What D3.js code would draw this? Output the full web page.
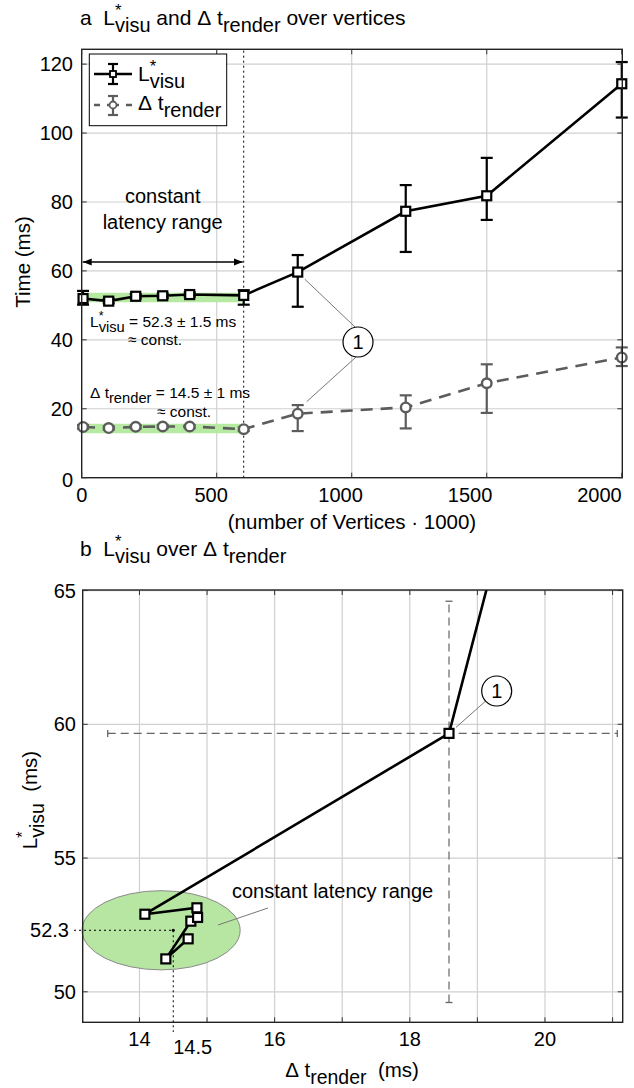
<!DOCTYPE html>
<html><head><meta charset="utf-8">
<script src="https://cdn.jsdelivr.net/npm/d3@7"></script>
<style>
body{margin:0;background:#fff}
svg{display:block}
text{font-family:"Liberation Sans",Arial,Helvetica,sans-serif;fill:#000}
</style>
</head><body>
<svg id="c" width="634" height="1088"></svg>
<script>
// ---------------- data ----------------
const vertices   = [5, 100, 200, 300, 400, 600, 800, 1200, 1500, 2000];
const lVisu      = [51.98, 51.23, 52.64, 52.78, 53.14, 52.9, 59.66, 77.3, 81.8, 114.3];
const lVisuLow   = [50.2, 50.6, 52.0, 52.1, 52.5, 50.2, 49.6, 65.5, 74.8, 104.5];
const lVisuHigh  = [54.2, 51.9, 53.3, 53.4, 53.8, 54.4, 64.6, 84.9, 92.8, 120.6];
const dtRender   = [14.72, 14.39, 14.76, 14.86, 14.85, 14.08, 18.58, 20.4, 27.4, 34.9];
const dtLow      = [14.2, 13.9, 14.3, 14.4, 14.4, 13.6, 13.53, 14.3, 18.8, 32.4];
const dtHigh     = [15.3, 14.9, 15.2, 15.3, 15.3, 14.6, 21.07, 23.9, 32.9, 37.8];
const xTicksA = [0, 500, 1000, 1500, 2000];
const yTicksA = [0, 20, 40, 60, 80, 100, 120];
const xTicksB = [14, 16, 18, 20];
const xGridB  = [14, 15, 16, 17, 18, 19, 20, 21];
const yTicksB = [50, 55, 60, 65];
const constRangeEnd = 600;
const constL = 52.3, constLErr = 1.5;
const constDt = 14.5, constDtErr = 1;
const bandL = 52.3, bandDt = 14.3;
const highlight = 6;
const ellipseCenter = [14.32, 52.3], ellipseRadius = [1.17, 1.48];

const svg = d3.select('#c');
const FS = 20;      // tick labels
const FL = 20.5;    // axis labels
const FT = 21;      // titles
const NB = '\u00a0';

function rich(g, x, y, parts, size, anchor) {
  const t = g.append('text').attr('x', x).attr('y', y).attr('font-size', size);
  if (anchor) t.attr('text-anchor', anchor);
  let cur = 0, lastSup = 0;
  parts.forEach(p => {
    const [txt, type] = Array.isArray(p) ? p : [p, 'n'];
    let target = 0, fs = size;
    if (type === 'sup') { target = -0.42 * size; fs = 0.8 * size; }
    if (type === 'sub' || type === 'ssub') { target = 0.34 * size; fs = 0.95 * size; }
    const ts = t.append('tspan').attr('dy', target - cur).attr('font-size', fs).text(txt);
    if (type === 'ssub') ts.attr('dx', -lastSup);
    cur = target;
    if (type === 'sup') lastSup = ts.node().getComputedTextLength();
  });
  return t;
}
const L_PARTS = [['L'], ['*', 'sup'], ['visu', 'ssub']];
const DT_PARTS = [['Δ' + NB + 't'], ['render', 'sub']];

// ================= Chart a =================
const xA = d3.scaleLinear().domain([0, 2002]).range([81.7, 622.3]);
const xLabA = d3.scaleLinear().domain([0, 2002]).range([81.7, 600]);
const yA = d3.scaleLinear().domain([0, 124.3]).range([477.7, 49.3]);
const gA = svg.append('g');

rich(gA, 80, 25, [['a' + NB + NB + 'L'], ['*', 'sup'], ['visu', 'ssub'], [' and Δ' + NB + 't'], ['render', 'sub'], [' over vertices']], FT);

// grid
gA.selectAll('.gx').data(xTicksA.slice(1, -1)).join('line')
  .attr('x1', d => xA(d)).attr('x2', d => xA(d)).attr('y1', yA.range()[0]).attr('y2', yA.range()[1])
  .attr('stroke', '#d0d0d0').attr('stroke-width', 1.2);
gA.selectAll('.gy').data(yTicksA.slice(1)).join('line')
  .attr('x1', xA.range()[0]).attr('x2', xA.range()[1]).attr('y1', d => yA(d)).attr('y2', d => yA(d))
  .attr('stroke', '#d0d0d0').attr('stroke-width', 1.2);

// green bands
[bandL, bandDt].forEach(v => {
  gA.append('line').attr('x1', xA(0)).attr('x2', xA(constRangeEnd))
    .attr('y1', yA(v)).attr('y2', yA(v)).attr('stroke', '#b6eaa2').attr('stroke-width', 9.5);
});

// dotted vertical
gA.append('line').attr('x1', xA(constRangeEnd)).attr('x2', xA(constRangeEnd))
  .attr('y1', yA.range()[0]).attr('y2', yA.range()[1])
  .attr('stroke', '#000').attr('stroke-width', 1).attr('stroke-dasharray', '2,3');

// constant latency range text + arrow
const midC = (xA(0) + xA(constRangeEnd)) / 2;
gA.append('text').attr('x', midC).attr('y', 203).attr('text-anchor', 'middle').attr('font-size', 20).text('constant');
gA.append('text').attr('x', midC).attr('y', 229).attr('text-anchor', 'middle').attr('font-size', 20).text('latency range');
const defs = svg.append('defs');
defs.append('marker').attr('id', 'ah').attr('viewBox', '0 0 10 10').attr('refX', 10).attr('refY', 5)
  .attr('markerWidth', 9).attr('markerHeight', 9).attr('markerUnits', 'userSpaceOnUse').attr('orient', 'auto-start-reverse')
  .append('path').attr('d', 'M0,1 L10,5 L0,9 Z').attr('fill', '#000');
gA.append('line').attr('x1', xA(0) + 1).attr('x2', xA(constRangeEnd) - 1).attr('y1', 262).attr('y2', 262)
  .attr('stroke', '#000').attr('stroke-width', 1.5)
  .attr('marker-start', 'url(#ah)').attr('marker-end', 'url(#ah)');

// series dt
const GRAY = '#5c5c5c';
function errorBars(g, xs, lo, hi, color, w) {
  xs.forEach((xv, i) => {
    const x = xA(xv);
    g.append('line').attr('x1', x).attr('x2', x).attr('y1', yA(lo[i])).attr('y2', yA(hi[i])).attr('stroke', color).attr('stroke-width', w);
    [lo[i], hi[i]].forEach(v => g.append('line').attr('x1', x - 6).attr('x2', x + 6).attr('y1', yA(v)).attr('y2', yA(v)).attr('stroke', color).attr('stroke-width', w));
  });
}
errorBars(gA, vertices, dtLow, dtHigh, GRAY, 2.2);
gA.append('path').datum(vertices.map((v, i) => [v, dtRender[i]]))
  .attr('d', d3.line().x(d => xA(d[0])).y(d => yA(d[1])))
  .attr('fill', 'none').attr('stroke', GRAY).attr('stroke-width', 2.6).attr('stroke-dasharray', '12,8');
gA.selectAll('.cdt').data(vertices).join('circle')
  .attr('cx', d => xA(d)).attr('cy', (d, i) => yA(dtRender[i])).attr('r', 4.8)
  .attr('fill', '#fff').attr('stroke', GRAY).attr('stroke-width', 2.4);

// series L
errorBars(gA, vertices, lVisuLow, lVisuHigh, '#000', 2.2);
gA.append('path').datum(vertices.map((v, i) => [v, lVisu[i]]))
  .attr('d', d3.line().x(d => xA(d[0])).y(d => yA(d[1])))
  .attr('fill', 'none').attr('stroke', '#000').attr('stroke-width', 2.6);
gA.selectAll('.sq').data(vertices).join('rect')
  .attr('x', d => xA(d) - 4.5).attr('y', (d, i) => yA(lVisu[i]) - 4.5).attr('width', 9).attr('height', 9)
  .attr('fill', '#fff').attr('stroke', '#000').attr('stroke-width', 2.2);

// annotations
rich(gA, 90, 327, L_PARTS.concat([[' = ' + constL + ' ± ' + constLErr + ' ms']]), 15.5);
gA.append('text').attr('x', 128).attr('y', 345).attr('font-size', 15.5).text('≈ const.');
rich(gA, 90, 398, DT_PARTS.concat([[' = ' + constDt + ' ± ' + constDtErr + ' ms', 'n']]), 15.5);
gA.append('text').attr('x', 157).attr('y', 417).attr('font-size', 15.5).text('≈ const.');

// circle 1
const c1 = [358, 342];
gA.append('line').attr('x1', c1[0] - 3).attr('y1', c1[1] - 15).attr('x2', xA(vertices[highlight]) + 7).attr('y2', yA(lVisu[highlight]) + 7)
  .attr('stroke', '#777').attr('stroke-width', 1);
gA.append('line').attr('x1', c1[0] - 2).attr('y1', c1[1] + 15).attr('x2', xA(vertices[highlight]) + 9).attr('y2', yA(dtRender[highlight]) - 12)
  .attr('stroke', '#777').attr('stroke-width', 1);
gA.append('circle').attr('cx', c1[0]).attr('cy', c1[1]).attr('r', 15).attr('fill', '#fff').attr('stroke', '#000').attr('stroke-width', 1.2);
gA.append('text').attr('x', c1[0]).attr('y', c1[1] + 7).attr('text-anchor', 'middle').attr('font-size', 20).text('1');

// frame + ticks
gA.append('rect').attr('x', xA.range()[0]).attr('y', yA.range()[1])
  .attr('width', xA.range()[1] - xA.range()[0]).attr('height', yA.range()[0] - yA.range()[1])
  .attr('fill', 'none').attr('stroke', '#222').attr('stroke-width', 1.4);
xTicksA.forEach(d => {
  gA.append('line').attr('x1', xA(d)).attr('x2', xA(d)).attr('y1', yA.range()[0]).attr('y2', yA.range()[0] - 5).attr('stroke', '#333');
  gA.append('line').attr('x1', xA(d)).attr('x2', xA(d)).attr('y1', yA.range()[1]).attr('y2', yA.range()[1] + 5).attr('stroke', '#333');
  gA.append('text').attr('x', xLabA(d)).attr('y', 502).attr('text-anchor', 'middle').attr('font-size', FS).text(d);
});
yTicksA.forEach(d => {
  gA.append('line').attr('x1', xA.range()[0]).attr('x2', xA.range()[0] + 5).attr('y1', yA(d)).attr('y2', yA(d)).attr('stroke', '#333');
  gA.append('line').attr('x1', xA.range()[1]).attr('x2', xA.range()[1] - 5).attr('y1', yA(d)).attr('y2', yA(d)).attr('stroke', '#333');
  gA.append('text').attr('x', 73).attr('y', yA(d) + (d === 0 ? 9 : 7)).attr('text-anchor', 'end').attr('font-size', FS).text(d);
});
gA.append('text').attr('x', 352).attr('y', 529).attr('text-anchor', 'middle').attr('font-size', FL).text('(number of Vertices · 1000)');
gA.append('text').attr('transform', 'translate(30,262) rotate(-90)').attr('text-anchor', 'middle').attr('font-size', FL).text('Time (ms)');

// legend
const lg = gA.append('g');
lg.append('rect').attr('x', 89.3).attr('y', 54).attr('width', 137.4).attr('height', 71.7).attr('fill', '#fff').attr('stroke', '#000').attr('stroke-width', 1);
lg.append('line').attr('x1', 94).attr('x2', 132).attr('y1', 74).attr('y2', 74).attr('stroke', '#000').attr('stroke-width', 2.6);
lg.append('line').attr('x1', 113).attr('x2', 113).attr('y1', 64).attr('y2', 84).attr('stroke', '#000').attr('stroke-width', 2.2);
[64, 84].forEach(y => lg.append('line').attr('x1', 108).attr('x2', 118).attr('y1', y).attr('y2', y).attr('stroke', '#000').attr('stroke-width', 2.2));
lg.append('rect').attr('x', 110).attr('y', 71).attr('width', 6).attr('height', 6).attr('fill', '#fff').attr('stroke', '#000').attr('stroke-width', 1.8);
rich(lg, 138, 81, L_PARTS, 21);
lg.append('line').attr('x1', 94).attr('x2', 132).attr('y1', 105).attr('y2', 105).attr('stroke', GRAY).attr('stroke-width', 2.6).attr('stroke-dasharray', '6,7,12,7,6');
lg.append('line').attr('x1', 113).attr('x2', 113).attr('y1', 96).attr('y2', 115).attr('stroke', GRAY).attr('stroke-width', 2.2);
[96, 115].forEach(y => lg.append('line').attr('x1', 108).attr('x2', 118).attr('y1', y).attr('y2', y).attr('stroke', GRAY).attr('stroke-width', 2.2));
lg.append('circle').attr('cx', 113).attr('cy', 105).attr('r', 3.5).attr('fill', '#fff').attr('stroke', GRAY).attr('stroke-width', 1.8);
rich(lg, 138, 110, DT_PARTS, 21);

// ================= Chart b =================
const xB = d3.scaleLinear().domain([13.16, 21.15]).range([82.7, 622.7]);
const yB = d3.scaleLinear().domain([48.86, 65.02]).range([1022.3, 590]);
const gB = svg.append('g');
rich(gB, 80, 556, [['b' + NB + NB + 'L'], ['*', 'sup'], ['visu', 'ssub'], [' over Δ' + NB + 't'], ['render', 'sub']], FT);

defs.append('clipPath').attr('id', 'clipB').append('rect')
  .attr('x', xB.range()[0]).attr('y', yB.range()[1]).attr('width', xB.range()[1] - xB.range()[0]).attr('height', yB.range()[0] - yB.range()[1]);

gB.selectAll('.gx').data(xGridB).join('line')
  .attr('x1', d => xB(d)).attr('x2', d => xB(d)).attr('y1', yB.range()[0]).attr('y2', yB.range()[1])
  .attr('stroke', '#d0d0d0').attr('stroke-width', 1.2);
gB.selectAll('.gy').data(yTicksB).join('line')
  .attr('x1', xB.range()[0]).attr('x2', xB.range()[1]).attr('y1', d => yB(d)).attr('y2', d => yB(d))
  .attr('stroke', '#d0d0d0').attr('stroke-width', 1.2);

// ellipse
gB.append('ellipse').attr('cx', xB(ellipseCenter[0])).attr('cy', yB(ellipseCenter[1]))
  .attr('rx', xB(ellipseCenter[0] + ellipseRadius[0]) - xB(ellipseCenter[0]))
  .attr('ry', yB(ellipseCenter[1]) - yB(ellipseCenter[1] + ellipseRadius[1]))
  .attr('fill', '#b6e6a2').attr('stroke', '#8a8a8a').attr('stroke-width', 1);

// dotted reference lines
gB.append('line').attr('x1', 74).attr('x2', xB(constDt)).attr('y1', yB(constL)).attr('y2', yB(constL))
  .attr('stroke', '#000').attr('stroke-width', 1).attr('stroke-dasharray', '2,3');
gB.append('line').attr('x1', xB(constDt)).attr('x2', xB(constDt)).attr('y1', yB(constL)).attr('y2', 1032)
  .attr('stroke', '#000').attr('stroke-width', 1).attr('stroke-dasharray', '2,3');
gB.append('circle').attr('cx', xB(constDt)).attr('cy', yB(constL)).attr('r', 1.5).attr('fill', '#000');

// error bars of highlighted point
const hx = dtRender[highlight], hy = lVisu[highlight];
const EB = '#666';
gB.append('line').attr('x1', xB(hx)).attr('x2', xB(hx)).attr('y1', yB(lVisuLow[highlight])).attr('y2', yB(lVisuHigh[highlight]))
  .attr('stroke', EB).attr('stroke-width', 1.2).attr('stroke-dasharray', '8,5');
gB.append('line').attr('x1', xB(dtLow[highlight])).attr('x2', xB(dtHigh[highlight])).attr('y1', yB(hy)).attr('y2', yB(hy))
  .attr('stroke', EB).attr('stroke-width', 1.2).attr('stroke-dasharray', '8,5');
[lVisuLow[highlight], lVisuHigh[highlight]].forEach(v => gB.append('line')
  .attr('x1', xB(hx) - 3.5).attr('x2', xB(hx) + 3.5).attr('y1', yB(v)).attr('y2', yB(v)).attr('stroke', EB).attr('stroke-width', 1.3));
[dtLow[highlight], dtHigh[highlight]].forEach(v => gB.append('line')
  .attr('x1', xB(v)).attr('x2', xB(v)).attr('y1', yB(hy) - 3.5).attr('y2', yB(hy) + 3.5).attr('stroke', EB).attr('stroke-width', 1.3));

// line + markers
const ptsB = dtRender.map((d, i) => [d, lVisu[i]]);
gB.append('path').datum(ptsB).attr('clip-path', 'url(#clipB)')
  .attr('d', d3.line().x(d => xB(d[0])).y(d => yB(d[1])))
  .attr('fill', 'none').attr('stroke', '#000').attr('stroke-width', 2.6);
gB.selectAll('.sq').data(ptsB.filter(p => p[0] <= xB.domain()[1] && p[1] <= yB.domain()[1])).join('rect')
  .attr('x', d => xB(d[0]) - 4.5).attr('y', d => yB(d[1]) - 4.5).attr('width', 9).attr('height', 9)
  .attr('fill', '#fff').attr('stroke', '#000').attr('stroke-width', 2.2);

// annotation
gB.append('line').attr('x1', 268).attr('y1', 908).attr('x2', 218).attr('y2', 925).attr('stroke', '#777').attr('stroke-width', 1);
gB.append('text').attr('x', 232).attr('y', 898).attr('font-size', 20).text('constant latency range');
const c2 = [496.7, 691];
gB.append('line').attr('x1', c2[0] - 11).attr('y1', c2[1] + 10).attr('x2', xB(hx) + 7).attr('y2', yB(hy) - 6)
  .attr('stroke', '#777').attr('stroke-width', 1);
gB.append('circle').attr('cx', c2[0]).attr('cy', c2[1]).attr('r', 15).attr('fill', '#fff').attr('stroke', '#000').attr('stroke-width', 1.2);
gB.append('text').attr('x', c2[0]).attr('y', c2[1] + 7).attr('text-anchor', 'middle').attr('font-size', 20).text('1');

// frame, ticks, labels
gB.append('rect').attr('x', xB.range()[0]).attr('y', yB.range()[1])
  .attr('width', xB.range()[1] - xB.range()[0]).attr('height', yB.range()[0] - yB.range()[1])
  .attr('fill', 'none').attr('stroke', '#222').attr('stroke-width', 1.4);
xGridB.forEach(d => {
  gB.append('line').attr('x1', xB(d)).attr('x2', xB(d)).attr('y1', yB.range()[0]).attr('y2', yB.range()[0] - 5).attr('stroke', '#333');
  gB.append('line').attr('x1', xB(d)).attr('x2', xB(d)).attr('y1', yB.range()[1]).attr('y2', yB.range()[1] + 5).attr('stroke', '#333');
});
xTicksB.forEach(d => gB.append('text').attr('x', xB(d)).attr('y', 1046).attr('text-anchor', 'middle').attr('font-size', FS).text(d));
gB.append('text').attr('x', xB(constDt)).attr('y', 1054).attr('font-size', FS).text(constDt);
yTicksB.forEach(d => {
  gB.append('line').attr('x1', xB.range()[0]).attr('x2', xB.range()[0] + 5).attr('y1', yB(d)).attr('y2', yB(d)).attr('stroke', '#333');
  gB.append('line').attr('x1', xB.range()[1]).attr('x2', xB.range()[1] - 5).attr('y1', yB(d)).attr('y2', yB(d)).attr('stroke', '#333');
  gB.append('text').attr('x', 76).attr('y', yB(d) + 7).attr('text-anchor', 'end').attr('font-size', FS).text(d);
});
gB.append('text').attr('x', 69).attr('y', yB(constL) + 7).attr('text-anchor', 'end').attr('font-size', FS).text(constL);
rich(gB, 352, 1077, DT_PARTS.concat([[NB + NB + '(ms)', 'n']]), FL, 'middle');
rich(gB.append('g').attr('transform', 'translate(37,800) rotate(-90)'), 0, 0, L_PARTS.concat([[NB + NB + '(ms)', 'n']]), FL, 'middle');
</script>
</body></html>
